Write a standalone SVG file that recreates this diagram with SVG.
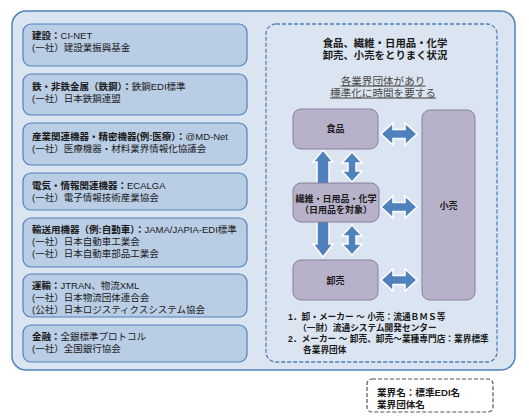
<svg xmlns="http://www.w3.org/2000/svg" width="529" height="419" viewBox="0 0 529 419">
<style>
text{font-family:"Liberation Sans","Noto Sans CJK JP",sans-serif;fill:#1a1a1a}
.cat{fill:#b9cde5;stroke:#4f81bd;stroke-width:1.2}
.lt{font-size:9.5px}
.b{font-weight:bold}
.node{fill:#b8b1ca;stroke:#86809c;stroke-width:1}
.nt{font-size:9px;font-weight:bold;text-anchor:middle}
.arr{fill:#4f81bd;stroke:#ffffff;stroke-width:1.5}
.bt{font-size:8.7px;font-weight:bold}
</style>
<defs>
<path id="h2" d="M-18,0 L-6,-11 L-6,-4.5 L6,-4.5 L6,-11 L18,0 L6,11 L6,4.5 L-6,4.5 L-6,11 Z"/>
<path id="v2" d="M0,-15 L-10,-4 L-4,-4 L-4,4 L-10,4 L0,15 L10,4 L4,4 L4,-4 L10,-4 Z"/>
</defs>
<rect id="panel" x="12" y="11" width="503" height="359" rx="14" fill="#dbe5f1" stroke="#4f81bd" stroke-width="1.5"/>
<g id="cat-kensetsu">
<rect class="cat" x="23" y="24" width="224" height="42" rx="8"/>
<text class="lt" x="32" y="39"><tspan class="b">建設：</tspan>CI-NET</text>
<text class="lt" x="32" y="51">(一社）建設業振興基金</text>
</g>
<g id="cat-tekko">
<rect class="cat" x="23" y="74" width="224" height="41" rx="8"/>
<text class="lt" x="32" y="90"><tspan class="b">鉄・非鉄金属（鉄鋼）：</tspan>鉄鋼EDI標準</text>
<text class="lt" x="32" y="102">(一社）日本鉄鋼連盟</text>
</g>
<g id="cat-sangyo">
<rect class="cat" x="23" y="123" width="224" height="42" rx="8"/>
<text class="lt" x="32" y="139.5"><tspan class="b">産業関連機器・精密機器(例:医療）：</tspan>@MD-Net</text>
<text class="lt" x="32" y="151.5">(一社）医療機器・材料業界情報化協議会</text>
</g>
<g id="cat-denki">
<rect class="cat" x="23" y="173" width="224" height="37" rx="8"/>
<text class="lt" x="32" y="188.5"><tspan class="b">電気・情報関連機器：</tspan>ECALGA</text>
<text class="lt" x="32" y="200.5">(一社）電子情報技術産業協会</text>
</g>
<g id="cat-yuso">
<rect class="cat" x="23" y="218" width="224" height="49" rx="8"/>
<text class="lt" x="32" y="233"><tspan class="b">輸送用機器（例:自動車）：</tspan>JAMA/JAPIA-EDI標準</text>
<text class="lt" x="32" y="245">(一社）日本自動車工業会</text>
<text class="lt" x="32" y="257">(一社）日本自動車部品工業会</text>
</g>
<g id="cat-unyu">
<rect class="cat" x="23" y="274" width="224" height="43" rx="8"/>
<text class="lt" x="32" y="289"><tspan class="b">運輸：</tspan>JTRAN、物流XML</text>
<text class="lt" x="32" y="301">(一社）日本物流団体連合会</text>
<text class="lt" x="32" y="313">(公社）日本ロジスティクスシステム協会</text>
</g>
<g id="cat-kinyu">
<rect class="cat" x="23" y="325" width="224" height="37" rx="8"/>
<text class="lt" x="32" y="340"><tspan class="b">金融：</tspan>全銀標準プロトコル</text>
<text class="lt" x="32" y="352">(一社）全国銀行協会</text>
</g>
<g id="situation">
<rect x="266" y="24" width="231" height="338" rx="10" fill="none" stroke="#4f81bd" stroke-width="1.3" stroke-dasharray="4 2"/>
<text x="385" y="47" font-size="10.4" font-weight="bold" text-anchor="middle">食品、繊維・日用品・化学</text>
<text x="385" y="59" font-size="10.4" font-weight="bold" text-anchor="middle">卸売、小売をとりまく状況</text>
<text x="383" y="84.5" font-size="10.6" text-anchor="middle" text-decoration="underline" style="fill:#4a4a4a">各業界団体があり</text>
<text x="383" y="96.5" font-size="10.6" text-anchor="middle" text-decoration="underline" style="fill:#4a4a4a">標準化に時間を要する</text>
</g>
<g id="connectors">
<use href="#h2" class="arr" transform="translate(399,134)"/>
<use href="#h2" class="arr" transform="translate(399,207)"/>
<use href="#h2" class="arr" transform="translate(399,280)"/>
<use href="#v2" class="arr" transform="translate(352,167)"/>
<use href="#v2" class="arr" transform="translate(352,240)"/>
<path class="arr" d="M323,150 L333,162 L329,162 L329,184 L317,184 L317,162 L313,162 Z"/>
<path class="arr" d="M317,221 L329,221 L329,244 L333,244 L323,257 L313,244 L317,244 Z"/>
</g>
<g id="node-shokuhin">
<rect class="node" x="293" y="109" width="85" height="40" rx="8"/>
<text class="nt" x="335.5" y="132">食品</text>
</g>
<g id="node-seni">
<rect class="node" x="293" y="183" width="86" height="39" rx="8"/>
<text class="nt" x="336" y="202">繊維・日用品・化学</text>
<text class="nt" x="336" y="213">（日用品を対象）</text>
</g>
<g id="node-oroshi">
<rect class="node" x="293" y="260" width="85" height="40" rx="8"/>
<text class="nt" x="335.5" y="284">卸売</text>
</g>
<g id="node-kouri">
<rect class="node" x="422" y="110" width="53" height="190" rx="8"/>
<text class="nt" x="448.5" y="209">小売</text>
</g>
<g id="notes">
<text class="bt" x="288" y="320">1．卸・メーカー ～ 小売：流通ＢＭＳ等</text>
<text class="bt" x="298" y="331">（一財）流通システム開発センター</text>
<text class="bt" x="288" y="342">2．メーカー ～ 卸売、卸売～業種専門店：業界標準</text>
<text class="bt" x="303" y="353">各業界団体</text>
</g>
<g id="legend">
<rect x="367" y="379" width="126" height="33" rx="5" fill="#ffffff" stroke="#555555" stroke-width="1.2" stroke-dasharray="4 2"/>
<text x="377" y="395.5" font-size="9.6" font-weight="bold">業界名：標準EDI名</text>
<text x="377" y="407.5" font-size="9.6" font-weight="bold">業界団体名</text>
</g>
</svg>
